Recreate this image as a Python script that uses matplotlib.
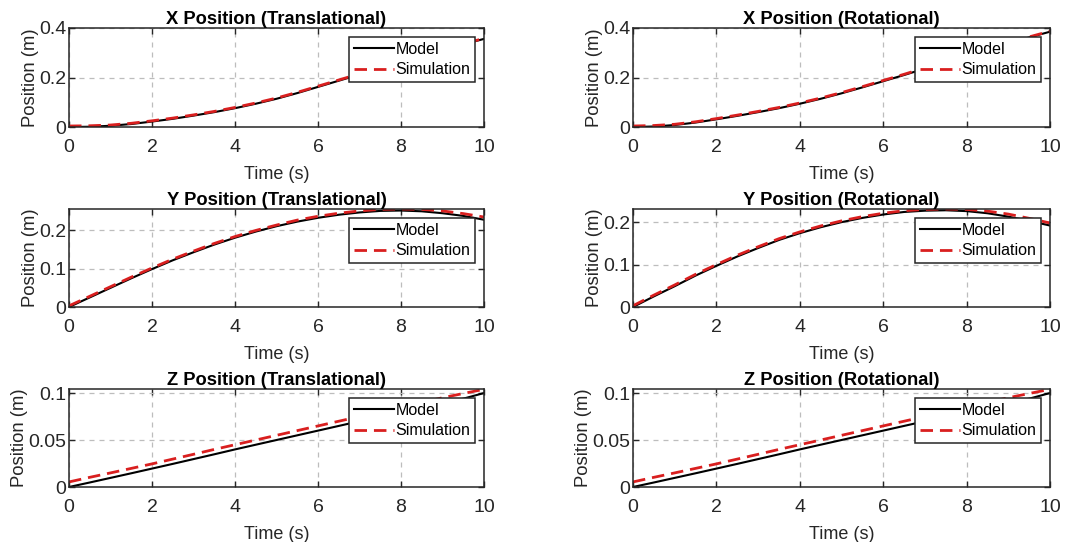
import numpy as np
import matplotlib
matplotlib.use('Agg')
import matplotlib.pyplot as plt

plt.rcParams['font.family'] = ['Liberation Sans', 'DejaVu Sans']

t = np.arange(0, 10.5, 0.5)

# X position
x_trans_model = [0, 0.001, 0.005, 0.012, 0.022, 0.033, 0.046, 0.060, 0.076, 0.094, 0.114,
                 0.137, 0.162, 0.187, 0.212, 0.238, 0.263, 0.287, 0.311, 0.334, 0.356]
x_trans_sim = [0.004, 0.005, 0.008, 0.015, 0.025, 0.036, 0.049, 0.063, 0.079, 0.097, 0.117,
               0.140, 0.165, 0.190, 0.215, 0.240, 0.265, 0.289, 0.313, 0.336, 0.358]
x_rot_model = [0, 0.002, 0.008, 0.018, 0.031, 0.045, 0.060, 0.076, 0.094, 0.114, 0.136,
               0.160, 0.185, 0.210, 0.236, 0.262, 0.288, 0.313, 0.338, 0.362, 0.385]
x_rot_sim = [0.004, 0.006, 0.011, 0.021, 0.034, 0.048, 0.063, 0.079, 0.097, 0.117, 0.139,
             0.163, 0.188, 0.213, 0.239, 0.265, 0.290, 0.315, 0.340, 0.364, 0.387]

# Y position
y_trans_model = [0, 0.025, 0.050, 0.075, 0.099, 0.122, 0.143, 0.163, 0.181, 0.197, 0.211,
                 0.223, 0.233, 0.241, 0.247, 0.251, 0.252, 0.250, 0.245, 0.238, 0.228]
y_trans_sim = [0.003, 0.028, 0.053, 0.078, 0.102, 0.125, 0.146, 0.166, 0.184, 0.200, 0.214,
               0.227, 0.237, 0.245, 0.251, 0.255, 0.256, 0.255, 0.251, 0.244, 0.235]
y_rot_model = [0, 0.025, 0.049, 0.074, 0.097, 0.119, 0.139, 0.158, 0.174, 0.188, 0.200,
               0.210, 0.218, 0.224, 0.227, 0.228, 0.226, 0.221, 0.213, 0.203, 0.192]
y_rot_sim = [0.003, 0.028, 0.052, 0.077, 0.100, 0.122, 0.142, 0.161, 0.177, 0.191, 0.203,
             0.213, 0.221, 0.227, 0.230, 0.231, 0.230, 0.226, 0.219, 0.209, 0.198]

# Z position
z_trans_model = [0, 0.0048, 0.0097, 0.0146, 0.0196, 0.0246, 0.0297, 0.0348, 0.040, 0.045, 0.050,
                 0.055, 0.060, 0.065, 0.070, 0.075, 0.080, 0.085, 0.090, 0.094, 0.100]
z_trans_sim = [0.0054, 0.0103, 0.015, 0.0198, 0.0246, 0.0297, 0.0348, 0.040, 0.045, 0.050, 0.055,
               0.060, 0.065, 0.070, 0.075, 0.080, 0.085, 0.090, 0.095, 0.0995, 0.104]
z_rot_model = [0, 0.0048, 0.0097, 0.0146, 0.0196, 0.0246, 0.0297, 0.0348, 0.040, 0.045, 0.050,
               0.055, 0.060, 0.065, 0.070, 0.075, 0.080, 0.085, 0.090, 0.094, 0.100]
z_rot_sim = [0.0054, 0.0103, 0.015, 0.0198, 0.0246, 0.0297, 0.0348, 0.040, 0.045, 0.050, 0.055,
             0.060, 0.065, 0.070, 0.075, 0.080, 0.085, 0.090, 0.095, 0.0995, 0.104]

titles = [['X Position (Translational)', 'X Position (Rotational)'],
          ['Y Position (Translational)', 'Y Position (Rotational)'],
          ['Z Position (Translational)', 'Z Position (Rotational)']]
model = [[x_trans_model, x_rot_model], [y_trans_model, y_rot_model], [z_trans_model, z_rot_model]]
sim = [[x_trans_sim, x_rot_sim], [y_trans_sim, y_rot_sim], [z_trans_sim, z_rot_sim]]
ylims = [[0.4, 0.4], [0.256, 0.231], [0.1043, 0.1043]]
yticks = [[0, 0.2, 0.4], [0, 0.1, 0.2], [0, 0.05, 0.1]]
ytick_labels = [['0', '0.2', '0.4'], ['0', '0.1', '0.2'], ['0', '0.05', '0.1']]

W, H = 1076, 542
fig = plt.figure(figsize=(W / 100, H / 100), dpi=100)

col_x = [(69, 484), (633, 1050)]
row_y = [(28, 127), (209, 307), (389, 487)]
dark = '#262626'
red = (0.85, 0.12, 0.12)

for r in range(3):
    for c in range(2):
        x0, x1 = col_x[c]
        y0, y1 = row_y[r]
        ax = fig.add_axes([x0 / W, 1 - y1 / H, (x1 - x0) / W, (y1 - y0) / H])
        ax.plot(t, model[r][c], color='black', lw=1.5, label='Model')
        ax.plot(t, sim[r][c], color=red, lw=2, ls=(0, (4.5, 2.5)), label='Simulation')
        ax.set_xlim(0, 10)
        ax.set_ylim(0, ylims[r][c])
        ax.set_xticks([0, 2, 4, 6, 8, 10])
        ax.set_yticks(yticks[r])
        ax.set_yticklabels(ytick_labels[r])
        ax.grid(True, ls=(0, (4, 4)), color='#bdbdbd', lw=0.9)
        ax.tick_params(direction='in', top=True, right=True, labelsize=14,
                       colors=dark, length=4, width=1)
        ax.tick_params(axis='x', pad=9)
        ax.tick_params(axis='y', pad=2)
        for s in ax.spines.values():
            s.set_color(dark)
            s.set_linewidth(1.1)
        ax.set_title(titles[r][c], fontsize=13.2, fontweight='bold', pad=3)
        ax.set_xlabel('Time (s)', fontsize=13, color=dark, labelpad=7)
        ax.set_ylabel('Position (m)', fontsize=13.3, color=dark, labelpad=0)
        leg = ax.legend(loc='upper right', fontsize=11.5, fancybox=False, framealpha=1,
                        edgecolor=dark, borderaxespad=0.55, handlelength=2.5,
                        handletextpad=0.1, borderpad=0.3, labelspacing=0.35)
        leg.get_frame().set_linewidth(1.1)

fig.savefig('out.png', dpi=100)
